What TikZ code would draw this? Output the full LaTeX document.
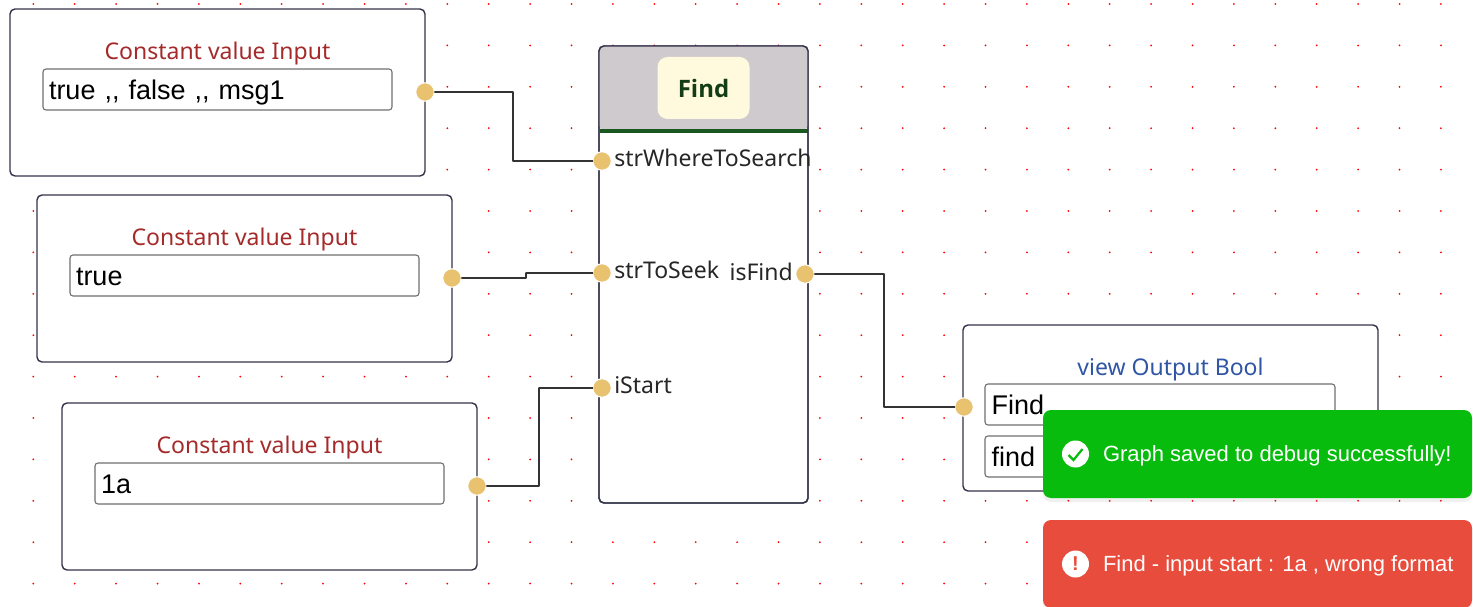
\documentclass[tikz,border=0pt]{standalone}
\usepackage{fontspec}
\setmainfont{Noto Sans}
\newfontfamily\arialfont{Liberation Sans}
\newfontfamily\chipfont{Open Sans}
\usetikzlibrary{positioning,shadows}

\definecolor{portgold}{HTML}{E8C26E}
\definecolor{headgray}{HTML}{CFCACE}
\definecolor{headgreen}{HTML}{1B5720}
\definecolor{chipcream}{HTML}{FFFADD}
\definecolor{framedark}{HTML}{33334A}
\definecolor{fieldgray}{HTML}{707070}
\definecolor{titlered}{HTML}{A52A2A}
\definecolor{titleblue}{HTML}{2F55A4}
\definecolor{toastgreen}{HTML}{07BC0C}
\definecolor{toastred}{HTML}{E74C3C}

\tikzset{
  every node/.style = {outer sep=0pt},
  nodebox/.style = {draw=framedark, line width=1.4pt, rounded corners=5pt, fill=white,
    minimum width=415pt, minimum height=167pt, anchor=north west},
  valuefield/.style = {draw=fieldgray, line width=1.1pt, rounded corners=3pt, fill=white,
    minimum width=349pt, minimum height=41pt, text width=337pt, inner xsep=6pt, inner ysep=0pt,
    text height=20pt, text depth=0pt, align=left, font=\arialfont\fontsize{27}{30}\selectfont, text=black},
  boxtitle/.style = {font=\fontsize{23}{26}\selectfont, inner sep=0pt},
  portdot/.style = {circle, fill=portgold, draw=white, line width=1pt, minimum size=18.5pt, inner sep=0pt},
  portlabel/.style = {font=\fontsize{23}{26}\selectfont, text=black!85, inner sep=0pt},
  wire/.style = {draw=black!80, line width=1.8pt, rounded corners=0.5pt},
  toast/.style = {rounded corners=8pt, minimum width=429pt, minimum height=88pt, anchor=north west,
    drop shadow={shadow xshift=0pt, shadow yshift=-4pt, opacity=0.12}},
  toasttext/.style = {text=white, inner sep=0pt, anchor=west, font=\arialfont\fontsize{22}{26}\selectfont},
  toasticon/.style = {circle, fill=white, minimum size=27pt, inner sep=0pt},
  griddot/.style = {fill=red, draw=none},
}

\begin{document}
\begin{tikzpicture}[x=1pt, y=-1pt]
      \useasboundingbox (0,0) rectangle (1473,607);

      % background grid
      \foreach \i in {0,...,34} {
        \foreach \j in {0,...,14} {
          \fill[griddot] ({33.3+41.4*\i},{4+41.4*\j}) circle (1pt);
        }
      }

      % constant inputs
      \node[nodebox] (c1) at (10,9) {};
      \node[valuefield, below right = 60pt and 33pt of c1.north west] (f1) {true ,, false ,, msg1};
      \node[boxtitle, text=titlered, below = 45pt of c1.north, anchor=center] (t1) {Constant value Input};
      \node[portdot] (p1) at (c1.east |- 0,92) {};

      \node[nodebox] (c2) at (37,195) {};
      \node[valuefield, below right = 60pt and 33pt of c2.north west] (f2) {true};
      \node[boxtitle, text=titlered, below = 45pt of c2.north, anchor=center] (t2) {Constant value Input};
      \node[portdot] (p2) at (c2.east |- 0,278) {};

      \node[nodebox] (c3) at (62,403) {};
      \node[valuefield, below right = 60pt and 33pt of c3.north west] (f3) {1a};
      \node[boxtitle, text=titlered, below = 45pt of c3.north, anchor=center] (t3) {Constant value Input};
      \node[portdot] (p3) at (c3.east |- 0,486) {};

      % find block
      \node[nodebox, minimum width=209pt, minimum height=457pt] (fb) at (599,46) {};
      \fill[headgray, rounded corners=5pt] (599,130) -- (599,46) -- (808,46) -- (808,130) -- cycle;
      \node[fill=headgreen, minimum width=208pt, minimum height=4.5pt, inner sep=0pt,
        below = 83pt of fb.north] (hb) {};
      \draw[framedark, line width=1.4pt, rounded corners=5pt] (fb.south west) rectangle (fb.north east);
      \node[fill=chipcream, rounded corners=10pt, minimum width=92pt, minimum height=62pt, text height=20pt, text depth=0pt,
        font=\chipfont\bfseries\fontsize{24}{28}\selectfont, text=headgreen!70!black, below = 11pt of fb.north] (chip) {Find};

      \node[portdot] (p4) at (602,161) {};
      \node[portdot] (p5) at (602,273) {};
      \node[portdot] (p6) at (602,388) {};
      \node[portdot] (p7) at (805,274) {};
      \node[portlabel, right = 3pt of p4, yshift=3pt] (l4) {strWhereToSearch};
      \node[portlabel, right = 3pt of p5, yshift=3pt] (l5) {strToSeek};
      \node[portlabel, right = 3pt of p6, yshift=3pt] (l6) {iStart};
      \node[portlabel, left = 3pt of p7, yshift=2pt] (l7) {isFind};

      % view output
      \node[nodebox, minimum height=166pt] (v1) at (963,325) {};
      \node[valuefield, minimum width=350pt, below right = 59pt and 22pt of v1.north west] (f4) {Find};
      \node[valuefield, minimum width=350pt, below right = 111pt and 22pt of v1.north west] (f5) {find};
      \node[boxtitle, text=titleblue, below = 45pt of v1.north, anchor=center] (t4) {view Output Bool};
      \node[portdot] (p8) at (964,407) {};

      % wires
      \coordinate (e1) at (513,92);
      \coordinate (e2) at (526,278);
      \coordinate (e3) at (539,486);
      \coordinate (e4) at (884,274);
      \draw[wire] (p1.east) -- (e1) |- (p4.west);
      \draw[wire] (p2.east) -- (e2) |- (p5.west);
      \draw[wire] (p3.east) -- (e3) |- (p6.west);
      \draw[wire] (p7.east) -- (e4) |- (p8.west);

      % toasts
      \node[toast, fill=toastgreen] (s1) at (1043,410) {};
      \node[toasticon, right = 19pt of s1.west] (i1) {};
      \draw[toastgreen, line width=2.2pt] ([shift={(-7,1)}]i1.center) -- ([shift={(-2,6)}]i1.center) -- ([shift={(7,-5)}]i1.center);
      \node[toasttext, right = 14pt of i1, yshift=-1.5pt] (m1) {Graph saved to debug successfully!};

      \node[toast, fill=toastred] (s2) at (1043,520) {};
      \node[toasticon, text=toastred, font=\arialfont\bfseries\fontsize{20}{20}\selectfont, right = 19pt of s2.west] (i2) {!};
      \node[toasttext, right = 14pt of i2, yshift=-1.5pt] (m2) {Find - input start : 1a , wrong format};
\end{tikzpicture}
\end{document}
